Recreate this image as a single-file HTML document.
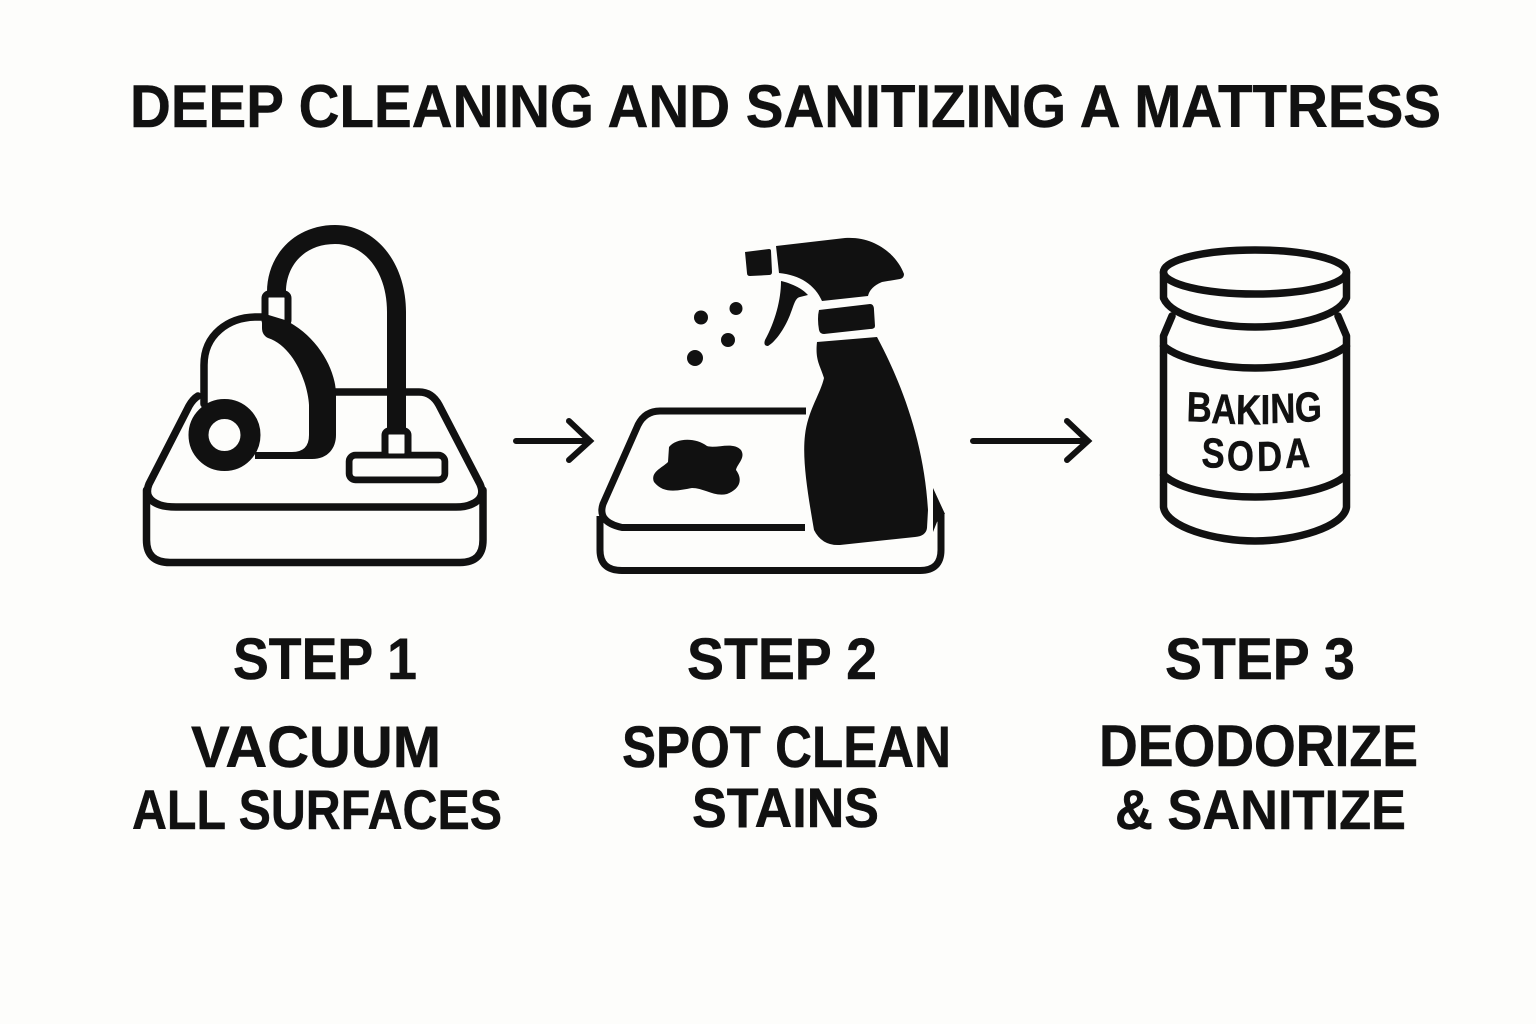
<!DOCTYPE html>
<html><head><meta charset="utf-8"><style>html,body{margin:0;padding:0;background:#fdfdfb}svg{display:block}text{font-family:"Liberation Sans",sans-serif;font-weight:700;fill:#111;stroke:#111;stroke-width:.5}</style></head><body>
<svg width="1536" height="1024" viewBox="0 0 1536 1024" xmlns="http://www.w3.org/2000/svg">
<rect width="1536" height="1024" fill="#fdfdfb"/>
<text x="130" y="127" font-size="60" textLength="1311" lengthAdjust="spacingAndGlyphs">DEEP CLEANING AND SANITIZING A MATTRESS</text>

<!-- Step 1 -->
<g fill="none" stroke="#111" stroke-width="7.500" stroke-linecap="round" stroke-linejoin="round">
<path d="M198 396 Q193 399 189 406 L149 484 Q143 499 160 505 Q166 507 176 507 L456 507 Q466 507 472 504 Q486 498 480 484 L439 405 Q432 392 419 392 L335 392"/>
<path d="M146.500 490 L146.500 540 Q146.500 562.500 170 562.500 L460 562.500 Q483 562.500 483 540 L483 490"/>
<path d="M204 404 L204 365 C204 335 228 317 257 317 L264 317"/>
<rect x="349.500" y="455.500" width="95" height="24" rx="6"/>
</g>
<path d="M267 292 C267 255 295 225 335 225 C375 225 406 262 406 312 L406 430 L387 430 L387 312 C387 272 365 244 335 244 C305 244 286 265 286 292 Z" fill="#111"/>
<rect x="265" y="294" width="23" height="30" rx="4" fill="#fdfdfb" stroke="#111" stroke-width="7"/>
<path d="M262 313 L262 328 Q262 335 268 338 C295 347 308 385 309 405 L309 435 Q309 452 292 452 L255 452 L255 459 L312 459 C328 459 336 448 336 435 L336 395 C336 368 316 335 285 320 Z" fill="#111"/>
<rect x="385" y="431" width="23" height="26" rx="4" fill="#fdfdfb" stroke="#111" stroke-width="7"/>
<rect x="352.500" y="458.500" width="89" height="18" rx="3" fill="#fdfdfb"/>
<circle cx="224.500" cy="435" r="26" fill="#fdfdfb" stroke="#111" stroke-width="20"/>

<!-- Arrows -->
<g fill="none" stroke="#111" stroke-width="6" stroke-linecap="round" stroke-linejoin="miter">
<path d="M516 441 L590 441 M569 421 L590 441 L569 460"/>
<path d="M973 441 L1088 441 M1067 421 L1088 441 L1067 460"/>
</g>

<!-- Step 2 -->
<g fill="none" stroke="#111" stroke-width="7" stroke-linejoin="round">
<path d="M806 411 L660 411 Q645 411 638 425 L603 504 Q597 522 622 527.500 L805 527.500"/>
<path d="M600 516 L600 550 Q600 570.500 622 570.500 L920 570.500 Q941 570.500 941 550 L941 515"/>
</g>
<path d="M933 488 L945 514 L937 522 L933 532 Z" fill="#111"/>
<path d="M669 447 C676 438 695 437 707 446 C716 449 733 441 741 450 C746 458 737 464 736 470 C742 478 742 488 727 494 C714 497 704 488 692 488 C680 490 664 495 654 482 C650 472 662 468 668 462 Z" fill="#111"/>
<path d="M817 342 L877 337 C900 380 924 440 928 510 L927 528 Q926 536 915 537 L840 545 Q822 546 814 530 C808 495 802 460 805 435 C808 410 820 395 824 378 C820 365 815 360 817 342 Z" fill="#111"/>
<path d="M819 310 L870 304 Q874 304 874 310 L875 326 Q875 329 870 329 L824 334 Q820 334 819 330 Q817 318 819 310 Z" fill="#111"/>
<path d="M776 246 L845 238 C875 236 897 255 904 274 Q904 278 900 279 L882 282 Q870 287 868 296 L822 301 C815 285 800 275 779 273 Z" fill="#111"/>
<path d="M745 252 L769 249 Q771 249 771 251 L772 272 Q772 275 769 275 L750 276 Q747 276 747 273 Z" fill="#111"/>
<path d="M781 281 C790 283 802 288 808 295 L800 297 C795 298 794 305 790 315 C784 330 775 342 768 346 Q763 346 765 340 C775 322 781 300 781 281 Z" fill="#111"/>
<g fill="#111"><circle cx="701" cy="317.500" r="7"/><circle cx="736" cy="308.500" r="6.500"/><circle cx="728" cy="340" r="7"/><circle cx="695" cy="358" r="8"/></g>

<!-- Step 3 -->
<g fill="none" stroke="#111" stroke-width="7.500" stroke-linecap="round" stroke-linejoin="round">
<ellipse cx="1255" cy="272" rx="91.500" ry="22"/>
<path d="M1163.500 272 L1163.500 298 C1172 318 1220 327 1255 327 C1290 327 1338 318 1346.500 298 L1346.500 272"/>
<path d="M1172 316 L1163.500 336 L1163.500 507 C1166 527 1215 541 1255 541 C1295 541 1344 527 1346.500 507 L1346.500 336 L1338 316"/>
<path d="M1163.500 346 C1180 360 1220 368 1255 368 C1290 368 1330 360 1346.500 346"/>
<path d="M1163.500 475 C1180 490 1220 497 1255 497 C1290 497 1330 490 1346.500 475"/>
</g>
<g transform="scale(.825 1)">
<text font-size="42" x="1438 1468 1498 1528 1540 1570" y="421 423 424 424 423 422" rotate="2 2 1 0 -1 -2">BAKING</text>
<text font-size="42" x="1456 1487 1524 1558" y="467 470 471 468" rotate="2 1 -1 -2">SODA</text>
</g>

<!-- Labels -->
<text x="233" y="679" font-size="58" textLength="184" lengthAdjust="spacingAndGlyphs">STEP 1</text>
<text x="191" y="767" font-size="58" textLength="250" lengthAdjust="spacingAndGlyphs">VACUUM</text>
<text x="132" y="829" font-size="56" textLength="370" lengthAdjust="spacingAndGlyphs">ALL SURFACES</text>
<text x="687" y="679" font-size="58" textLength="190" lengthAdjust="spacingAndGlyphs">STEP 2</text>
<text x="622" y="767" font-size="58" textLength="329" lengthAdjust="spacingAndGlyphs">SPOT CLEAN</text>
<text x="692" y="827" font-size="56" textLength="187" lengthAdjust="spacingAndGlyphs">STAINS</text>
<text x="1165" y="679" font-size="58" textLength="190" lengthAdjust="spacingAndGlyphs">STEP 3</text>
<text x="1099" y="766" font-size="58" textLength="319" lengthAdjust="spacingAndGlyphs">DEODORIZE</text>
<text x="1115" y="829" font-size="56" textLength="291" lengthAdjust="spacingAndGlyphs">&amp; SANITIZE</text>
</svg>
</body></html>
